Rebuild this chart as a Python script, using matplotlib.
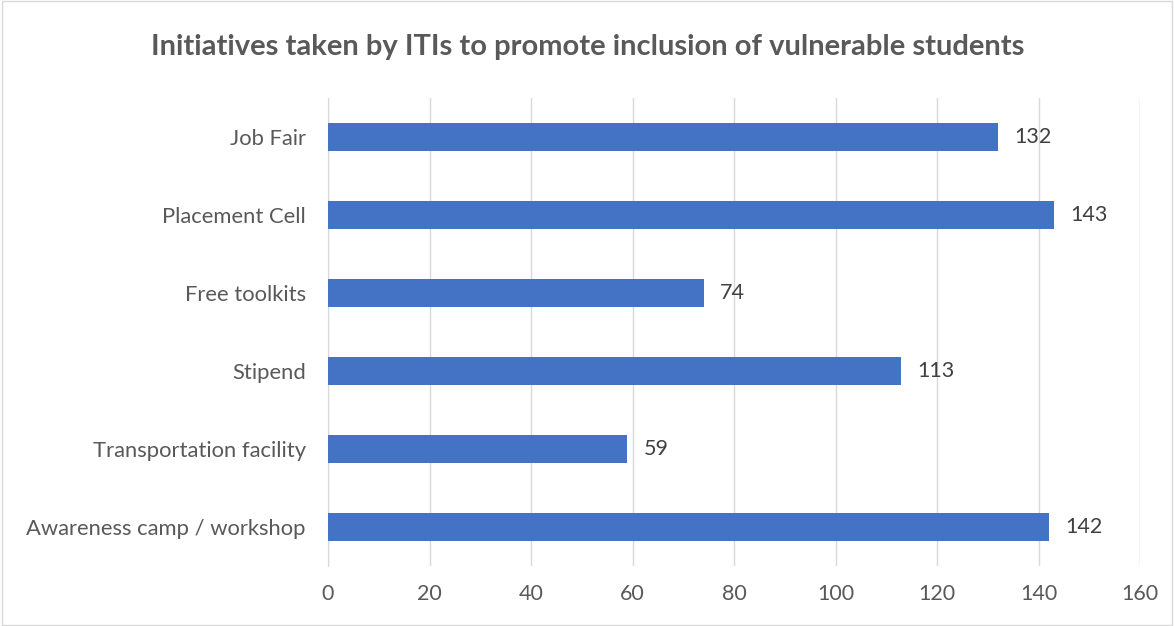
import matplotlib
matplotlib.use("Agg")
import matplotlib.pyplot as plt

categories = ["Awareness camp / workshop", "Transportation facility", "Stipend",
              "Free toolkits", "Placement Cell", "Job Fair"]
values = [142, 59, 113, 74, 143, 132]
xticks = [0, 20, 40, 60, 80, 100, 120, 140, 160]
title = "Initiatives taken by ITIs to promote inclusion of vulnerable students"

plt.rcParams['font.family'] = ['Lato', 'DejaVu Sans']
txt = "#595959"
bar_color = "#4472C4"

fig = plt.figure(figsize=(11.74, 6.26), dpi=100)
ax = fig.add_axes([328/1174, 1-566/626, (1140-328)/1174, (566-98)/626])

y = list(range(len(categories)))
ax.barh(y, values, height=0.36, color=bar_color, zorder=3)
for yi, v in zip(y, values):
    ax.text(v + 3.2, yi, str(v), va='center', ha='left', fontsize=15.5, color="#404040")

ax.set_xlim(0, 160)
ax.set_ylim(-0.5, len(categories) - 0.5)
ax.set_xticks(xticks)
ax.set_xticklabels([str(t) for t in xticks], fontsize=15.5, color=txt)
ax.tick_params(axis='both', length=0)
ax.tick_params(axis='x', pad=13)
ax.set_yticks(y)
ax.set_yticklabels(categories, fontsize=15.8, color=txt)
ax.tick_params(axis='y', pad=16)
ax.grid(axis='x', color='#d9d9d9', linewidth=1, zorder=0)
for s in ['top', 'right', 'bottom']:
    ax.spines[s].set_visible(False)
ax.spines['left'].set_color('#d9d9d9')

fig.text(588/1174, 1-47/626, title, ha='center', va='center', fontsize=21,
         fontweight='bold', color=txt)

fig.patches.append(plt.Rectangle((0.002, 0.002), 0.996, 0.996, transform=fig.transFigure,
                                 fill=False, edgecolor='#d9d9d9', linewidth=1))

fig.savefig("out.png", dpi=100)
